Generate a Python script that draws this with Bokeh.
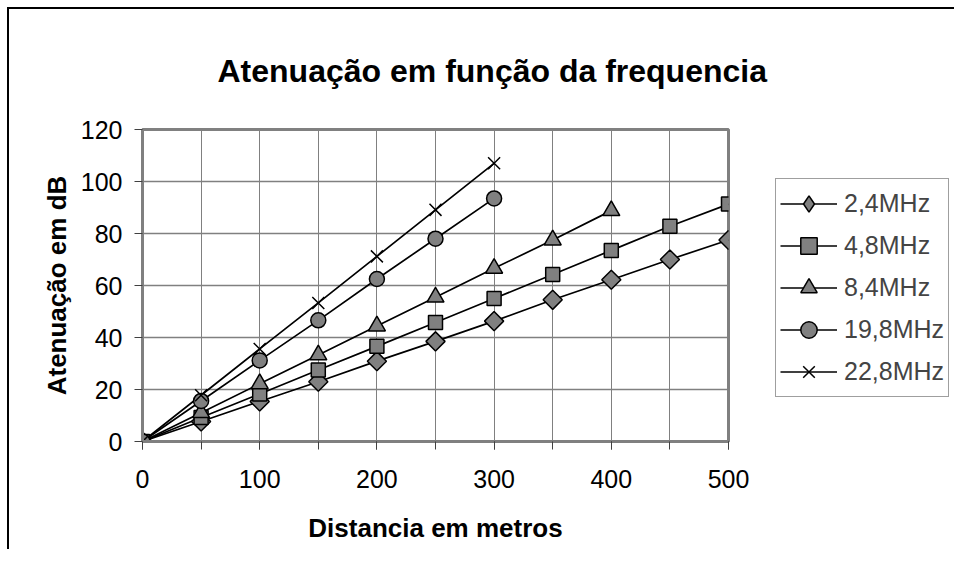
from bokeh.plotting import figure
from bokeh.layouts import row
from bokeh.models import FixedTicker, Range1d, Legend, LegendItem
from bokeh.embed import file_html
from bokeh.resources import INLINE
import math

title_text = "Atenuação em função da frequencia"
x_label = "Distancia em metros"
y_label = "Atenuação em dB"

series_names = ["2,4MHz", "4,8MHz", "8,4MHz", "19,8MHz", "22,8MHz"]
dist_2_4 = [0, 50, 100, 150, 200, 250, 300, 350, 400, 450, 500]
att_2_4 = [0, 7.7, 15.4, 23.0, 30.9, 38.5, 46.3, 54.5, 62.2, 70.0, 77.5]
dist_4_8 = [0, 50, 100, 150, 200, 250, 300, 350, 400, 450, 500]
att_4_8 = [0, 9.2, 18.3, 27.5, 36.6, 45.8, 55.0, 64.2, 73.5, 82.8, 91.3]
dist_8_4 = [0, 50, 100, 150, 200, 250, 300, 350, 400]
att_8_4 = [0, 11.1, 22.2, 33.3, 44.4, 55.5, 66.6, 77.5, 88.8]
dist_19_8 = [0, 50, 100, 150, 200, 250, 300]
att_19_8 = [0, 15.6, 31.2, 46.6, 62.5, 78.0, 93.5]
dist_22_8 = [0, 50, 100, 150, 200, 250, 300]
att_22_8 = [0, 17.8, 35.6, 53.3, 71.2, 89.1, 107.0]

x_ticks = [0, 100, 200, 300, 400, 500]
x_tick_labels = ["0", "100", "200", "300", "400", "500"]
x_minor_ticks = [0, 50, 100, 150, 200, 250, 300, 350, 400, 450, 500]
y_ticks = [0, 20, 40, 60, 80, 100, 120]
y_tick_labels = ["0", "20", "40", "60", "80", "100", "120"]

FONT = "Liberation Sans"
GRAY = "#808080"
H = 540

p = figure(width=765, height=H, output_backend="svg", toolbar_location=None,
           x_range=Range1d(0, 500), y_range=Range1d(0, 120),
           min_border_left=133, min_border_right=46,
           min_border_top=120, min_border_bottom=108,
           background_fill_color="white", border_fill_color="white")

p.title.text = title_text
p.title.text_font = FONT
p.title.text_font_size = "32px"
p.title.text_font_style = "bold"
p.title.text_color = "black"
p.title.align = "left"
p.title.offset = 75
p.title.standoff = 82

xax = p.below[0]
yax = p.left[0]

for ax in (xax, yax):
    ax.axis_line_color = GRAY
    ax.axis_line_width = 3
    ax.major_tick_line_color = "#404040"
    ax.major_tick_out = 8
    ax.major_tick_in = 0
    ax.major_label_text_font = FONT
    ax.major_label_text_font_size = "25px"
    ax.major_label_text_color = "black"
    ax.axis_label_text_font = FONT
    ax.axis_label_text_font_size = "26px"
    ax.axis_label_text_font_style = "bold"
    ax.axis_label_text_color = "black"

xax.ticker = FixedTicker(ticks=x_ticks, minor_ticks=x_minor_ticks)
xax.major_label_overrides = dict(zip(x_ticks, x_tick_labels))
xax.minor_tick_line_color = "#404040"
xax.minor_tick_out = 8
xax.minor_tick_in = 0
xax.major_label_standoff = 20
xax.axis_label = x_label
xax.axis_label_standoff = 22

yax.ticker = FixedTicker(ticks=y_ticks)
yax.major_label_overrides = dict(zip(y_ticks, y_tick_labels))
yax.minor_tick_line_color = None
yax.major_label_standoff = 12
yax.axis_label = y_label
yax.axis_label_standoff = 6

p.outline_line_color = GRAY
p.outline_line_width = 3

p.xgrid.ticker = FixedTicker(ticks=x_ticks, minor_ticks=x_minor_ticks)
p.xgrid.grid_line_color = GRAY
p.xgrid.grid_line_width = 1
p.xgrid.minor_grid_line_color = GRAY
p.xgrid.minor_grid_line_width = 1
p.ygrid.ticker = FixedTicker(ticks=y_ticks)
p.ygrid.grid_line_color = GRAY
p.ygrid.grid_line_width = 1.6

# (x, y, plot marker, size, angle, legend marker)
data = [
    (dist_2_4, att_2_4, "square", 13.5, math.pi / 4, "diamond"),
    (dist_4_8, att_4_8, "square", 14, 0, "square"),
    (dist_8_4, att_8_4, "triangle", 17, 0, "triangle"),
    (dist_19_8, att_19_8, "circle", 15, 0, "circle"),
    (dist_22_8, att_22_8, "x", 17, 0, "x"),
]

for xs, ys, *_ in data:
    p.line(xs, ys, line_color="black", line_width=1.7)
for xs, ys, marker, size, ang, _ in data:
    p.scatter(xs, ys, marker=marker, size=size, angle=ang,
              fill_color=GRAY, line_color="black", line_width=1.5)

# legend holder: same series drawn out of its view, only the legend shows
p2 = figure(width=180, height=H, output_backend="svg", toolbar_location=None,
            x_range=Range1d(-2, -1), y_range=Range1d(-2, -1),
            x_axis_type=None, y_axis_type=None, min_border=0,
            background_fill_color="white", border_fill_color="white")
p2.outline_line_color = None
p2.title.visible = False

items = []
for (xs, ys, marker, size, ang, lmarker), name in zip(data, series_names):
    ln = p2.line(xs, ys, line_color="black", line_width=1.7)
    sc = p2.scatter(xs, ys, marker=lmarker, fill_color=GRAY,
                    line_color="black", line_width=1.5)
    items.append(LegendItem(label=name, renderers=[ln, sc]))

legend = Legend(items=items, location=(1, 44), orientation="vertical",
                label_text_font=FONT, label_text_font_size="25px",
                glyph_width=57, glyph_height=41, label_height=41,
                spacing=1, padding=4, margin=0, label_standoff=7,
                border_line_color="#404040", border_line_width=1.5,
                background_fill_color="white", background_fill_alpha=1)
p2.add_layout(legend)

layout = row(p, p2)
layout.styles = {"position": "absolute", "left": "7px", "top": "7px",
                 "border-top": "2px solid black", "border-left": "2px solid black"}

open("out.html", "w").write(file_html(layout, INLINE))
